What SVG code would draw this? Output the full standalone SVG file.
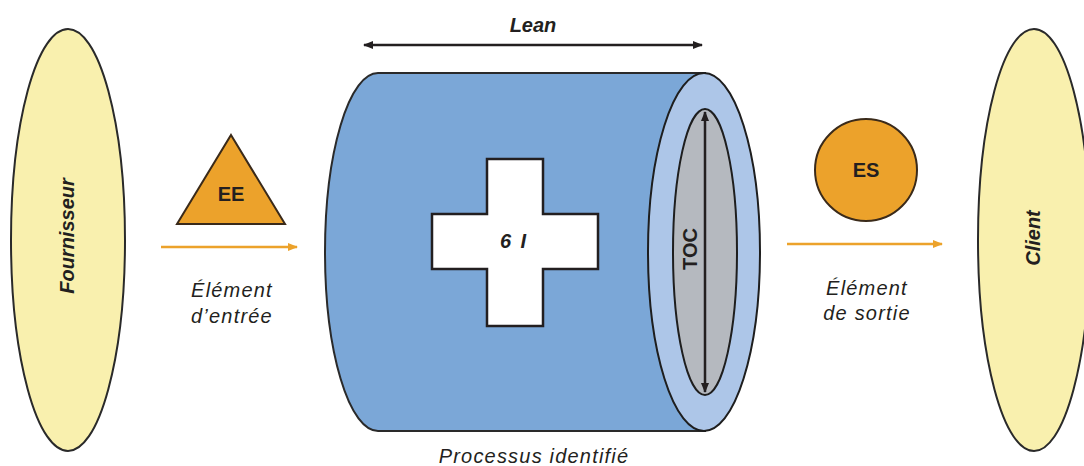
<svg xmlns="http://www.w3.org/2000/svg" width="1084" height="466" viewBox="0 0 1084 466">
<style>
.ell{fill:#f9f0ae;stroke:#2a2a2a;stroke-width:2}
.lbl{font-family:"Liberation Sans",Arial,sans-serif;fill:#231f20}
.it{font-style:italic}
.bd{font-weight:bold}
.ls{letter-spacing:1.2px}
.orange{fill:#eca22b;stroke:#3a2a1a;stroke-width:2}
.line{stroke:#231f20;stroke-width:2.5;fill:none}
.oline{stroke:#eca22b;stroke-width:2.5;fill:none}
</style>
<defs>
<marker id="ah" viewBox="0 0 10 10" refX="9" refY="5" markerWidth="4" markerHeight="4" orient="auto-start-reverse"><path d="M0,1 L10,5 L0,9 Z" fill="#231f20"/></marker>
<marker id="ao" viewBox="0 0 10 10" refX="9" refY="5" markerWidth="4" markerHeight="4" orient="auto"><path d="M0,1 L10,5 L0,9 Z" fill="#eca22b"/></marker>
</defs>
<g id="fournisseur">
<ellipse class="ell" cx="68" cy="240" rx="57" ry="211"/>
<text class="lbl it bd" font-size="20" text-anchor="middle" dominant-baseline="central" transform="translate(67,236) rotate(-90)">Fournisseur</text>
</g>
<g id="ee">
<polygon class="orange" points="231,135 285,224 177,224"/>
<text class="lbl bd" font-size="20" x="231" y="201" text-anchor="middle">EE</text>
</g>
<g id="lbl-entree">
<text class="lbl it ls" font-size="20" text-anchor="middle"><tspan x="232" y="297">Élément</tspan><tspan x="232" y="323">d’entrée</tspan></text>
</g>
<g id="processus">
<path d="M378,73 L705,73 L705,431 L378,431 A53,179 0 0 1 378,73 Z" fill="#7ba7d7" stroke="#2a2a2a" stroke-width="2"/>
<ellipse cx="704" cy="252" rx="56" ry="179" fill="#adc6e8" stroke="#1e1e1e" stroke-width="2"/>
<ellipse cx="705" cy="252" rx="32" ry="143" fill="#b5b9bf" stroke="#1e1e1e" stroke-width="2"/>
<path d="M487,159 H543 V214 H598 V269 H543 V326 H487 V269 H432 V214 H487 Z" fill="#ffffff" stroke="#231f20" stroke-width="2.5"/>
<text class="lbl it bd" font-size="20" x="514" y="248" text-anchor="middle" letter-spacing="2">6 I</text>
<text class="lbl bd" font-size="20" text-anchor="middle" dominant-baseline="central" transform="translate(690,249) rotate(-90)">TOC</text>
<text class="lbl it ls" font-size="20" x="534" y="463" text-anchor="middle">Processus identifié</text>
</g>
<g id="lean">
<text class="lbl it bd" font-size="20" x="533" y="32" text-anchor="middle">Lean</text>
</g>
<g id="es">
<circle class="orange" cx="866" cy="170" r="51"/>
<text class="lbl bd" font-size="20" x="866" y="177" text-anchor="middle">ES</text>
</g>
<g id="lbl-sortie">
<text class="lbl it ls" font-size="20" text-anchor="middle"><tspan x="867" y="295">Élément</tspan><tspan x="867" y="320">de sortie</tspan></text>
</g>
<g id="client">
<ellipse class="ell" cx="1034" cy="240" rx="56" ry="211"/>
<text class="lbl it bd" font-size="20" text-anchor="middle" dominant-baseline="central" transform="translate(1033,238) rotate(-90)">Client</text>
</g>
<g id="connectors">
<line class="line" x1="364" y1="45" x2="702" y2="45" marker-start="url(#ah)" marker-end="url(#ah)"/>
<line class="line" x1="705" y1="112" x2="705" y2="392" marker-start="url(#ah)" marker-end="url(#ah)"/>
<line class="oline" x1="161" y1="247" x2="297" y2="247" marker-end="url(#ao)"/>
<line class="oline" x1="787" y1="244" x2="942" y2="244" marker-end="url(#ao)"/>
</g>
</svg>
